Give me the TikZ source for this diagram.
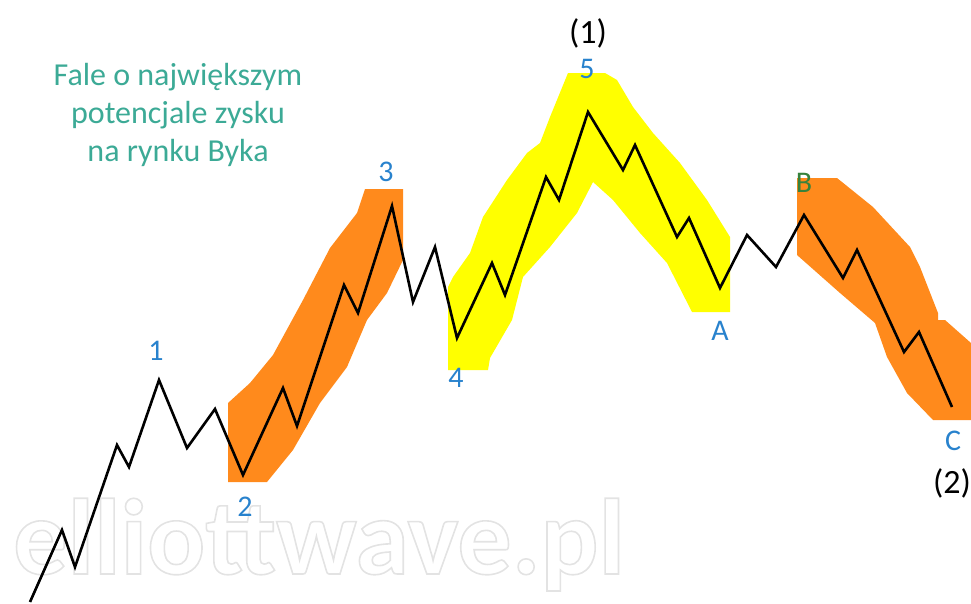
\documentclass[tikz,border=0pt]{standalone}
\usepackage{fontspec}
\setmainfont{Carlito}
\usepackage{tikz}

\definecolor{wavelbl}{RGB}{40,130,205}
\definecolor{wavegrn}{RGB}{55,130,60}
\definecolor{titlecol}{RGB}{60,170,150}
\definecolor{bandorange}{RGB}{255,138,28}
\definecolor{bandyellow}{RGB}{255,255,0}
\definecolor{markcol}{RGB}{232,232,232}

\begin{document}
\begin{tikzpicture}[x=1pt,y=-1pt]
    % Elliott waves: impulse 1-5 then correction A-B-C, highlighted bands.
    % Coordinates are in image pixels, y downwards.

    \tikzset{
      band/.style={draw=none},
      wave/.style={line width=2.6pt, line join=miter},
      wlabel/.style={font=\fontsize{30}{32}\selectfont, text=wavelbl, inner sep=0pt},
      degree/.style={font=\fontsize{34}{36}\selectfont, text=black, inner sep=0pt},
      title/.style={font=\fontsize{32}{38}\selectfont, text=titlecol, align=center}
    }

    \useasboundingbox (0,0) rectangle (971,603);

    % --- watermark (outlined letters)
    \node[font=\bfseries\fontsize{108}{108}\selectfont, text=markcol, inner sep=0pt, anchor=base west]
      (mark) at (13,574)
      {\special{pdf:literal direct 1 Tr 1.6 w 0.89 G}elliottwave.pl\special{pdf:literal direct 0 Tr}};

    % --- band over wave 3
    \fill[band, bandorange] (228,482) -- (267,482) -- (293,450) -- (320,403) -- (347,367)
      -- (367,320) -- (387,293) -- (403,260) -- (403,189) -- (365,189) -- (357,213)
      -- (330,248) -- (303,300) -- (273,355) -- (250,383) -- (228,403) -- cycle;

    % --- band over wave 5 and A
    \fill[band, bandyellow] (448,370) -- (488,370) -- (490,358) -- (512,320) -- (523,277)
      -- (550,247) -- (577,213) -- (593,182) -- (613,200) -- (640,233) -- (667,263)
      -- (692,312) -- (730,312) -- (730,237) -- (707,200) -- (680,163) -- (653,133)
      -- (633,107) -- (617,80) -- (605,73) -- (568,73) -- (550,117) -- (540,143)
      -- (527,153) -- (507,180) -- (483,217) -- (470,253) -- (453,277) -- (448,287) -- cycle;

    % --- band over wave C
    \fill[band, bandorange] (797,178) -- (837,178) -- (873,207) -- (910,247) -- (920,267)
      -- (938,313) -- (938,320) -- (945,320) -- (971,343) -- (971,420) -- (933,420)
      -- (907,393) -- (887,357) -- (875,323) -- (840,293) -- (797,255) -- cycle;

    % --- price path
    \draw[wave] (30,602) -- (62,530) -- (75,567) -- (117,445) -- (129,467)
      -- (159,380) -- (187,448) -- (215,409) -- (243,475) -- (283,388) -- (297,426)
      -- (344,285) -- (358,313) -- (392,206) -- (413,302) -- (435,247) -- (457,338)
      -- (492,263) -- (505,295) -- (546,177) -- (559,200) -- (588,112) -- (623,170)
      -- (635,145) -- (677,237) -- (689,218) -- (720,288) -- (747,235) -- (776,267)
      -- (804,215) -- (843,278) -- (857,250) -- (904,352) -- (919,332) -- (952,407);

    % --- wave labels
    \node[wlabel] (w1) at (156,351) {1};
    \node[wlabel] (w2) at (245,507) {2};
    \node[wlabel] (w3) at (386,172) {3};
    \node[wlabel] (w4) at (456,378) {4};
    \node[wlabel] (w5) at (587,69) {5};
    \node[wlabel] (wA) at (720,331) {A};
    \node[wlabel, text=wavegrn] (wB) at (804,183) {B};
    \node[wlabel] (wC) at (953,441) {C};

    \node[degree] (d1) at (588,33) {(1)};
    \node[degree] (d2) at (952,483) {(2)};

    % --- title
    \node[title] (title) at (178,115) {Fale o największym\\potencjale zysku\\na rynku Byka};
\end{tikzpicture}
\end{document}
